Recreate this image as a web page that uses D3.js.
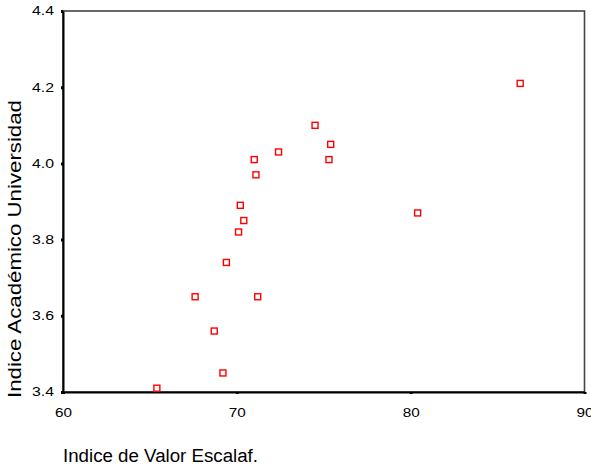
<!DOCTYPE html>
<html>
<head>
<meta charset="utf-8">
<script src="https://cdn.jsdelivr.net/npm/d3@7"></script>
<style>
  body { margin: 0; background: #fff; }
  text { font-family: "Liberation Sans", Arial, sans-serif; fill: #000; }
</style>
</head>
<body>
<div id="chart"></div>
<script>
// values
const valorEscalaf = [74.5, 75.4, 72.4, 71.0, 75.3, 71.1, 70.2, 70.4, 70.1, 69.4, 67.6, 71.2, 86.3, 80.4, 68.7, 69.2, 65.4];
const indiceAcad   = [4.10, 4.05, 4.03, 4.01, 4.01, 3.97, 3.89, 3.85, 3.82, 3.74, 3.65, 3.65, 4.21, 3.87, 3.56, 3.45, 3.41];
const xTicks = [60, 70, 80, 90];
const yTicks = [3.4, 3.6, 3.8, 4.0, 4.2, 4.4];

const widthTotal = 591, heightTotal = 465;
const margin = { top: 11, right: 6, bottom: 73, left: 63 };
const width  = widthTotal - margin.left - margin.right,
      height = heightTotal - margin.top - margin.bottom;

const svg = d3.select('#chart').append('svg')
    .attr('width', widthTotal)
    .attr('height', heightTotal);

const g = svg.append('g')
    .attr('transform', `translate(${margin.left}, ${margin.top})`);

const xScale = d3.scaleLinear().domain([60, 90]).range([0, width - 0.5]);
const yScale = d3.scaleLinear().domain([3.4, 4.4]).range([height, 0]);

// frame top/right
g.append('rect')
    .attr('x', 0).attr('y', 0)
    .attr('width', xScale(90)).attr('height', height)
    .attr('fill', 'none')
    .attr('stroke', '#444')
    .attr('stroke-width', 1.6);

// axes
const xAxis = g.append('g')
    .attr('transform', `translate(0, ${height})`)
    .call(d3.axisBottom(xScale).tickValues(xTicks).tickFormat(d3.format('d')).tickSizeInner(2).tickSizeOuter(0).tickPadding(14));

const yAxis = g.append('g')
    .call(d3.axisLeft(yScale).tickValues(yTicks).tickFormat(d3.format('.1f')).tickSizeInner(2).tickSizeOuter(0).tickPadding(7));

[xAxis, yAxis].forEach(ax => {
  ax.select('.domain').attr('stroke', '#000').attr('stroke-width', 2);
  ax.selectAll('.tick line').attr('stroke', '#000').attr('stroke-width', 3);
  ax.selectAll('.tick text')
      .style('font-family', '"Liberation Sans", Arial, sans-serif')
      .style('font-size', '12px')
      .attr('fill', '#000')
      // the original glyphs are a bit wider than Arial
      .attr('textLength', function() { return this.textContent.length === 3 ? 22 : 17; })
      .attr('lengthAdjust', 'spacingAndGlyphs');
});

// axis titles
svg.append('text')
    .attr('x', 63)
    .attr('y', 462)
    .style('font-size', '18px')
    .attr('textLength', 195)
    .attr('lengthAdjust', 'spacingAndGlyphs')
    .text('Indice de Valor Escalaf.');

svg.append('text')
    .attr('transform', 'translate(21, 249) rotate(-90)')
    .style('text-anchor', 'middle')
    .style('font-size', '18px')
    .attr('textLength', 298)
    .attr('lengthAdjust', 'spacingAndGlyphs')
    .text('Indice Académico Universidad');

// points
g.selectAll('rect.pt')
    .data(valorEscalaf.map((v, i) => ({ x: v, y: indiceAcad[i] })))
    .enter()
    .append('rect')
      .attr('class', 'pt')
      .attr('x', d => xScale(d.x) - 3)
      .attr('y', d => yScale(d.y) - 3)
      .attr('width', 6)
      .attr('height', 6)
      .attr('fill', '#fff')
      .attr('stroke', '#f00')
      .attr('stroke-width', 1.4);
</script>
</body>
</html>
